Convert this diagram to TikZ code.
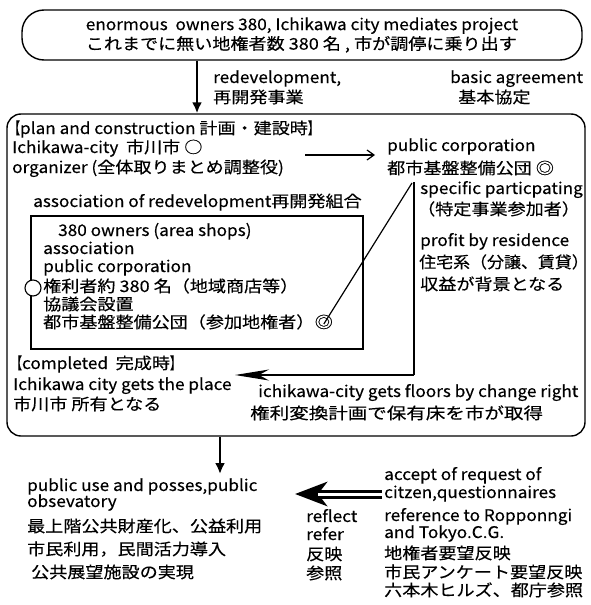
\documentclass[tikz,border=0pt]{standalone}
\usepackage{fontspec}
\usepackage{graphicx}
\setmainfont{Noto Sans CJK JP}[FakeStretch=1.075, FakeBold=0.3]
\newfontfamily\jp{Noto Sans CJK JP}[FakeStretch=1.13, FakeBold=0.3]
\newfontfamily\jpw{Noto Sans CJK JP}[FakeStretch=1.22, FakeBold=0.3]
\newfontfamily\jpn{Noto Sans CJK JP}[FakeStretch=1.06, FakeBold=0.3]
\usetikzlibrary{arrows.meta}
\newcommand\fs{\fontsize{16}{19.5}\selectfont}
\newcommand\lbr{\scalebox{0.6}[1]{\jp【}}
\newcommand\rbr{\scalebox{0.6}[1]{\jp】}}
\tikzset{
  txt/.style={anchor=west, inner sep=0pt, text height=11.5pt, text depth=3.5pt, font=\fs},
  jtxt/.style={txt, font=\fs\jp},
  boxline/.style={draw, line width=1.4pt},
  downarr/.style={line width=2.2pt, -{Latex[length=11pt,width=10pt]}},
  thinarr/.style={line width=1.2pt, -{Straight Barb[length=7pt,width=10pt]}},
  longarr/.style={line width=1.3pt, -{Stealth[length=34pt,width=11pt,inset=10pt]}},
  bigarr/.style={line width=9pt, -{Stealth[length=32pt,width=24pt,inset=9pt]}},
  bigstripe/.style={white, line width=3pt},
}
\begin{document}
\begin{tikzpicture}[x=1pt,y=-1pt]
\useasboundingbox (0,0) rectangle (590,605);
\fill[white] (0,0) rectangle (590,605);

% top box
\node[boxline, rounded corners=22pt, minimum width=560pt, minimum height=50pt,
      align=left, font=\fs, inner sep=0pt] (top) at (302,35)
  {enormous\ \ owners 380, Ichikawa city mediates project\\
   {\jp これまでに無い地権者数 380 名 , 市が調停に乗り出す}};

% main box and inner box
\node[boxline, rounded corners=14pt, minimum width=578pt, minimum height=322pt, inner sep=0pt] (main) at (296,275) {};
\node[boxline, line width=1.2pt, minimum width=332pt, minimum height=133pt, inner sep=0pt] (inner) at (197,282.5) {};

% arrow top -> main
\coordinate (ax1) at (197,0);
\draw[downarr] (top.south -| ax1) -- (main.north -| ax1);
\node[txt] (redev) at (213,79) {redevelopment,};
\node[jtxt] (redevj) at (213,99) {再開発事業};
\node[txt] (basic) at (450,79) {basic agreement};
\node[jtxt] (basicj) at (458,99) {基本協定};

% plan and construction
\node[txt] (plan) at (9,130) {\lbr plan and construction {\jp 計画・建設時}\rbr};
\node[txt] (ich) at (12,149) {Ichikawa-city\ \ {\jp 市川市 ○}};
\node[txt] (org) at (12,169) {organizer ({\jp 全体取りまとめ調整役})};
\node[txt] (pc1) at (387,147) {public corporation};
\node[jtxt] (pc2) at (387,170) {都市基盤整備公団 ◎};
\coordinate (orgA) at (305,155);
\coordinate (orgB) at (375,155);
\draw[thinarr] (orgA) -- (orgB);

\node[txt] (assoc) at (33,203) {association of redevelopment{\jp 再開発組合}};
\node[txt] (own) at (58,232) {380 owners (area shops)};
\node[txt] (as2) at (43,250) {association};
\node[txt] (pc3) at (43,268) {public corporation};
\node[jtxt] (ken) at (43,288) {権利者約 380 名（地域商店等）};
\node[jtxt] (kyo) at (43,306) {協議会設置};
\node[jtxt] (tos) at (43,324) {都市基盤整備公団（参加地権者）};
\node[jtxt] (dbl) at (tos.east) {◎};
\node[draw, circle, fill=white, line width=1.1pt, minimum size=16pt, inner sep=0pt] (circ) at (33,288) {};

% right column
\node[txt] (spec) at (420,190) {specific particpating};
\node[jtxt] (specj) at (417,211) {（特定事業参加者）};
\node[txt] (prof) at (420,242) {profit by residence};
\node[txt, font=\fs\jpn] (profj1) at (419,264) {住宅系（分譲、賃貸）};
\node[jtxt] (profj2) at (420,286) {収益が背景となる};

\coordinate (apex) at (412,183);
\coordinate (vtop) at (414,182);
\coordinate (corner) at (414,375);
\coordinate (ltip) at (235,375);
\draw[line width=1.2pt] (dbl.center) -- (apex);
\draw[line width=1.2pt] (vtop) -- (corner);
\draw[longarr] (corner) -- (ltip);

% completed
\node[txt] (comp) at (11,365) {\lbr completed\ \ {\jp 完成時}\rbr};
\node[txt] (gets) at (13,386) {Ichikawa city gets the place};
\node[jtxt] (getsj) at (13,406) {市川市 所有となる};
\node[txt] (floors) at (258,393) {ichikawa-city gets floors by change right};
\node[txt, font=\fs\jpw] (floorsj) at (250,415) {権利変換計画で保有床を市が取得};

% bottom
\coordinate (ax2) at (220,0);
\coordinate (ax2end) at (220,474);
\draw[downarr] (main.south -| ax2) -- (ax2end);
\node[txt] (pub1) at (27,487) {public use and posses,public};
\node[txt] (pub2) at (27,503) {obsevatory};
\node[jtxt] (pub3) at (27,528) {最上階公共財産化、公益利用};
\node[jtxt] (pub4) at (27,551) {市民利用，民間活力導入};
\node[jtxt] (pub5) at (31,574) {公共展望施設の実現};

\node[txt] (acc1) at (384,476) {accept of request of};
\node[txt] (acc2) at (384,494) {citzen,questionnaires};
\node[txt] (acc3) at (384,517) {reference to Ropponngi};
\node[txt] (acc4) at (384,534) {and Tokyo.C.G.};
\node[jtxt] (acc5) at (384,555) {地権者要望反映};
\node[jtxt] (acc6) at (384,574) {市民アンケート要望反映};
\node[jtxt] (acc7) at (384,592) {六本木ヒルズ、都庁参照};
\coordinate (bA) at (382,494);
\coordinate (bM) at (318,494);
\coordinate (bB) at (295,494);
\draw[bigarr] (bA) -- (bB);
\draw[bigstripe] (bA) -- (bM);

\node[txt] (ref1) at (306,518) {reflect};
\node[txt] (ref2) at (306,536) {refer};
\node[jtxt] (ref3) at (306,556) {反映};
\node[jtxt] (ref4) at (306,575) {参照};
\end{tikzpicture}
\end{document}
